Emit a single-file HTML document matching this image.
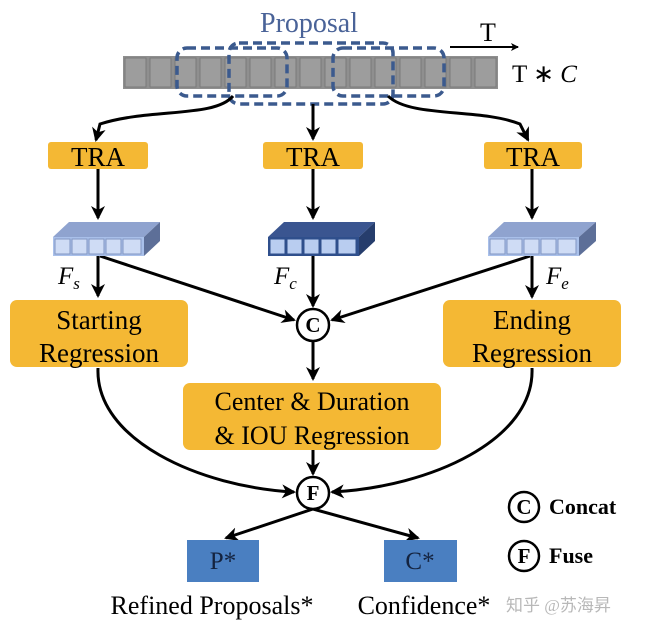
<!DOCTYPE html>
<html><head><meta charset="utf-8"><style>
body{margin:0;background:#fff}
svg{display:block}
text{font-family:"Liberation Serif",serif}
</style></head><body>
<svg width="646" height="628" viewBox="0 0 646 628" xmlns="http://www.w3.org/2000/svg">
<defs>
<marker id="a" markerWidth="8" markerHeight="8" refX="7" refY="4" orient="auto" markerUnits="userSpaceOnUse" viewBox="0 0 8 8"><path d="M0,0 L8,4 L0,8 L2,4z" fill="#000"/></marker>
<marker id="b" markerWidth="14" markerHeight="14" refX="12" refY="7" orient="auto" markerUnits="userSpaceOnUse" viewBox="0 0 14 14"><path d="M0,0 L14,7 L0,14 L4,7z" fill="#000"/></marker>
</defs>
<rect x="123" y="56" width="375" height="33" fill="#8f8f8f"/>
<g fill="#9d9d9d" stroke="#7a7a7a" stroke-width="1">
<rect x="125" y="58" width="21" height="29"/><rect x="150" y="58" width="21" height="29"/><rect x="175" y="58" width="21" height="29"/><rect x="200" y="58" width="21" height="29"/><rect x="225" y="58" width="21" height="29"/><rect x="250" y="58" width="21" height="29"/><rect x="275" y="58" width="21" height="29"/><rect x="300" y="58" width="21" height="29"/><rect x="325" y="58" width="21" height="29"/><rect x="350" y="58" width="21" height="29"/><rect x="375" y="58" width="21" height="29"/><rect x="400" y="58" width="21" height="29"/><rect x="425" y="58" width="21" height="29"/><rect x="450" y="58" width="21" height="29"/><rect x="475" y="58" width="21" height="29"/>
</g>
<g fill="none" stroke="#3b5a8e" stroke-width="3.5" stroke-dasharray="9,5">
<rect x="177" y="48" width="110" height="48" rx="10"/>
<rect x="229" y="43" width="164" height="61" rx="10"/>
<rect x="333" y="48" width="111" height="48" rx="10"/>
</g>
<text x="309" y="32" font-size="28" fill="#4a6398" text-anchor="middle">Proposal</text>
<line x1="450" y1="47" x2="518" y2="47" stroke="#000" stroke-width="2" marker-end="url(#a)"/>
<text x="488" y="41" font-size="26" text-anchor="middle">T</text>
<text x="512" y="82" font-size="25">T ∗ <tspan font-style="italic">C</tspan></text>
<g stroke="#000" stroke-width="3" fill="none">
<path d="M233,96 C215,118 150,108 100,124 L96,140" marker-end="url(#b)"/>
<path d="M313,104 L313,139" marker-end="url(#b)"/>
<path d="M388,96 C410,118 480,108 520,124 L528,140" marker-end="url(#b)"/>
<path d="M98,169 L98,218" marker-end="url(#b)"/>
<path d="M313,169 L313,218" marker-end="url(#b)"/>
<path d="M532,169 L532,218" marker-end="url(#b)"/>
<path d="M98,256 L98,296" marker-end="url(#b)"/>
<path d="M100,256 L294,320" marker-end="url(#b)"/>
<path d="M313,256 L313,306" marker-end="url(#b)"/>
<path d="M532,256 L532,297" marker-end="url(#b)"/>
<path d="M530,256 L332,320" marker-end="url(#b)"/>
<path d="M313,342 L313,379" marker-end="url(#b)"/>
<path d="M313,450 L313,474" marker-end="url(#b)"/>
<path d="M98,368 C95,440 200,487 294,492" marker-end="url(#b)"/>
<path d="M532,368 C535,440 430,487 332,492" marker-end="url(#b)"/>
<path d="M313,509 L226,538" marker-end="url(#b)"/>
<path d="M313,509 L418,538" marker-end="url(#b)"/>
</g>
<g fill="#f4b834">
<rect x="48" y="142" width="100" height="27" rx="3"/>
<rect x="263" y="142" width="100" height="27" rx="3"/>
<rect x="484" y="142" width="98" height="27" rx="3"/>
</g>
<g font-size="27" text-anchor="middle">
<text x="98" y="166">TRA</text><text x="313" y="166">TRA</text><text x="533" y="166">TRA</text>
</g>
<g>
<path d="M53,237 L69,222 L160,222 L144,237z" fill="#8fa3cf"/><path d="M144,237 L160,222 L160,241 L144,256z" fill="#5d6f98"/>
<rect x="53" y="237" width="91" height="19" fill="#a9c0ea"/>
<path d="M268,237 L284,222 L375,222 L359,237z" fill="#3a5590"/><path d="M359,237 L375,222 L375,241 L359,256z" fill="#263d6c"/>
<rect x="268" y="237" width="91" height="19" fill="#2f4f8c"/>
<path d="M488,237 L504,222 L596,222 L579,237z" fill="#8fa3cf"/><path d="M579,237 L596,222 L596,241 L579,256z" fill="#5d6f98"/>
<rect x="488" y="237" width="91" height="19" fill="#a9c0ea"/>
</g>
<g fill="#cfdcf5" stroke="#8296c2" stroke-width="1">
<rect x="55" y="239" width="15" height="15"/><rect x="72" y="239" width="15" height="15"/><rect x="89" y="239" width="15" height="15"/><rect x="106" y="239" width="15" height="15"/><rect x="123" y="239" width="18" height="15"/>
<rect x="490" y="239" width="15" height="15"/><rect x="507" y="239" width="15" height="15"/><rect x="524" y="239" width="15" height="15"/><rect x="541" y="239" width="15" height="15"/><rect x="558" y="239" width="18" height="15"/>
</g>
<g fill="#b9cdf0" stroke="#2f4f8c" stroke-width="1">
<rect x="270" y="239" width="15" height="15"/><rect x="287" y="239" width="15" height="15"/><rect x="304" y="239" width="15" height="15"/><rect x="321" y="239" width="15" height="15"/><rect x="338" y="239" width="18" height="15"/>
</g>
<g font-size="25" font-style="italic">
<text x="58" y="284">F<tspan font-size="17" dy="5">s</tspan></text>
<text x="274" y="284">F<tspan font-size="17" dy="5">c</tspan></text>
<text x="546" y="284">F<tspan font-size="17" dy="5">e</tspan></text>
</g>
<g fill="#f4b834">
<rect x="10" y="300" width="178" height="67" rx="7"/>
<rect x="443" y="300" width="178" height="67" rx="7"/>
<rect x="183" y="383" width="258" height="67" rx="7"/>
</g>
<g font-size="27" text-anchor="middle">
<text x="99" y="329">Starting</text><text x="99" y="362">Regression</text>
<text x="532" y="329">Ending</text><text x="532" y="362">Regression</text>
</g>
<g font-size="26" text-anchor="middle">
<text x="312" y="410">Center &amp; Duration</text><text x="312" y="444">&amp; IOU Regression</text>
</g>
<g fill="#fff" stroke="#000" stroke-width="2.5">
<circle cx="313" cy="325" r="16"/><circle cx="313" cy="493" r="16"/>
<circle cx="524" cy="507" r="15"/><circle cx="524" cy="556" r="15"/>
</g>
<g font-size="21" font-weight="bold" text-anchor="middle">
<text x="313" y="332">C</text><text x="313" y="500">F</text>
<text x="524" y="514">C</text><text x="524" y="563">F</text>
</g>
<g font-size="22" font-weight="bold"><text x="549" y="514">Concat</text><text x="549" y="563">Fuse</text></g>
<rect x="187" y="540" width="72" height="42" fill="#4a7fc1"/>
<rect x="384" y="540" width="73" height="42" fill="#4a7fc1"/>
<g font-size="25" text-anchor="middle" fill="#14233f">
<text x="223" y="569">P*</text><text x="420" y="569">C*</text>
</g>
<g font-size="26" text-anchor="middle">
<text x="212" y="614">Refined Proposals*</text><text x="424" y="614">Confidence*</text>
</g>
<text x="506" y="611" font-size="17" fill="#b8b8b8" font-family="'Liberation Sans','Noto Sans CJK SC',sans-serif">知乎 @苏海昇</text>
</svg>
</body></html>
